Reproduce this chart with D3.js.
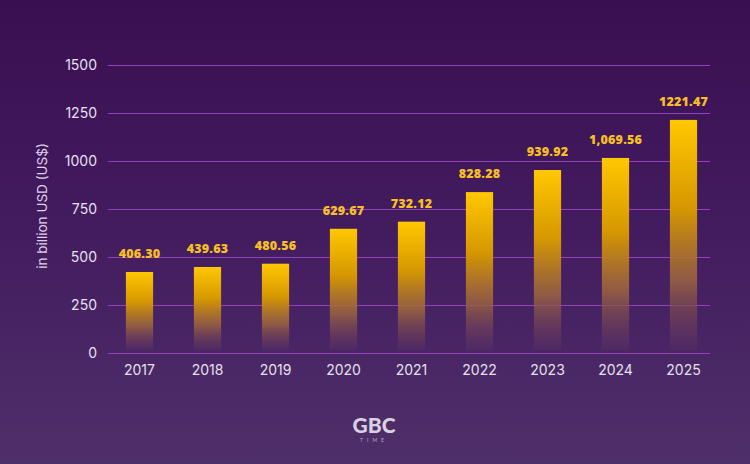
<!DOCTYPE html>
<html><head><meta charset="utf-8">
<script src="https://cdn.jsdelivr.net/npm/d3@7"></script>
<style>html,body{margin:0;padding:0;background:#3b1154;}svg{display:block;}</style>
</head><body>
<svg id="chart" width="750" height="464"></svg>
<script>
const years = ["2017","2018","2019","2020","2021","2022","2023","2024","2025"];
const barValues = [422, 448, 465, 647, 684, 838, 953, 1016, 1214];
const valueLabels = ["406.30","439.63","480.56","629.67","732.12","828.28","939.92","1,069.56","1221.47"];
const yTicks = [0, 250, 500, 750, 1000, 1250, 1500];
const yTitle = "in billion USD (US$)";

const W = 750, H = 464;
const svg = d3.select("#chart");
const defs = svg.append("defs");

const bg = defs.append("linearGradient").attr("id","bg").attr("x1",0).attr("y1",0).attr("x2",0).attr("y2",1);
bg.append("stop").attr("offset","0%").attr("stop-color","#3a0f52");
bg.append("stop").attr("offset","45%").attr("stop-color","#421a5e");
bg.append("stop").attr("offset","100%").attr("stop-color","#4f2f6a");
svg.append("rect").attr("width",W).attr("height",H).attr("fill","url(#bg)");

const bar = defs.append("linearGradient").attr("id","bar").attr("x1",0).attr("y1",0).attr("x2",0).attr("y2",1);
bar.append("stop").attr("offset","0%").attr("stop-color","#ffc800");
bar.append("stop").attr("offset","38%").attr("stop-color","#d69800");
bar.append("stop").attr("offset","70%").attr("stop-color","#9b6340").attr("stop-opacity",0.85);
bar.append("stop").attr("offset","100%").attr("stop-color","#5a2f66").attr("stop-opacity",0.4);

const x = d3.scaleBand().domain(years).range([105.5, 717.5]).paddingInner(0.6).paddingOuter(0.3);
const y = d3.scaleLinear().domain([0, 1500]).range([353, 65]);

// y axis labels
const yAxis = d3.axisLeft(y).tickValues(yTicks).tickSize(0).tickPadding(0).tickFormat(d3.format("d"));
const gy = svg.append("g").attr("transform","translate(97,0)").call(yAxis);
gy.select(".domain").remove();
gy.selectAll("text").attr("fill","#e6e0ee").attr("font-family","Inter, 'Noto Sans', sans-serif").attr("font-size",14).attr("font-weight",400);

// grid
svg.append("g").selectAll("line").data(yTicks).join("line")
  .attr("x1",108).attr("x2",710).attr("y1",d=>y(d)+0.5).attr("y2",d=>y(d)+0.5)
  .attr("stroke","#9440b8").attr("stroke-width",1);

// bars
svg.append("g").selectAll("rect").data(years).join("rect")
  .attr("x",d=>x(d)).attr("width",x.bandwidth())
  .attr("y",(d,i)=>y(barValues[i])).attr("height",(d,i)=>y(0)-3-y(barValues[i]))
  .attr("fill","url(#bar)");

// value labels
svg.append("g").selectAll("text").data(years).join("text")
  .attr("x",d=>x(d)+x.bandwidth()/2).attr("y",(d,i)=>y(barValues[i])-14)
  .attr("text-anchor","middle").attr("fill","#f7bf22")
  .attr("font-family","'Open Sans', Lato, sans-serif").attr("font-weight",800).attr("font-size",12.5)
  .attr("letter-spacing","0.2px")
  .text((d,i)=>valueLabels[i]);

// x axis
const xAxis = d3.axisBottom(x).tickSize(0).tickPadding(0);
const gx = svg.append("g").attr("transform","translate(0,375)").call(xAxis);
gx.select(".domain").remove();
gx.selectAll("text").attr("dy",0).attr("fill","#e6e0ee").attr("font-family","Inter, 'Noto Sans', sans-serif").attr("font-size",14);

// y title
svg.append("text").attr("transform","translate(47,206) rotate(-90)")
  .attr("text-anchor","middle").attr("fill","#ddd3e8")
  .attr("font-family","Inter, 'Noto Sans', sans-serif").attr("font-size",13.5)
  .text(yTitle);

// logo
const logo = svg.append("g").attr("transform","translate(374,0)");
logo.append("text").attr("x",0).attr("y",433).attr("text-anchor","middle")
  .attr("fill","#d9d0e2").attr("font-family","Lato, sans-serif").attr("font-weight",900).attr("font-size",21)
  .text("GBC");
logo.append("text").attr("x",0).attr("y",442).attr("text-anchor","middle")
  .attr("fill","#b9a9cc").attr("font-family","Lato, sans-serif").attr("font-size",5).attr("letter-spacing","4px")
  .text("TIME");
</script>
</body></html>
